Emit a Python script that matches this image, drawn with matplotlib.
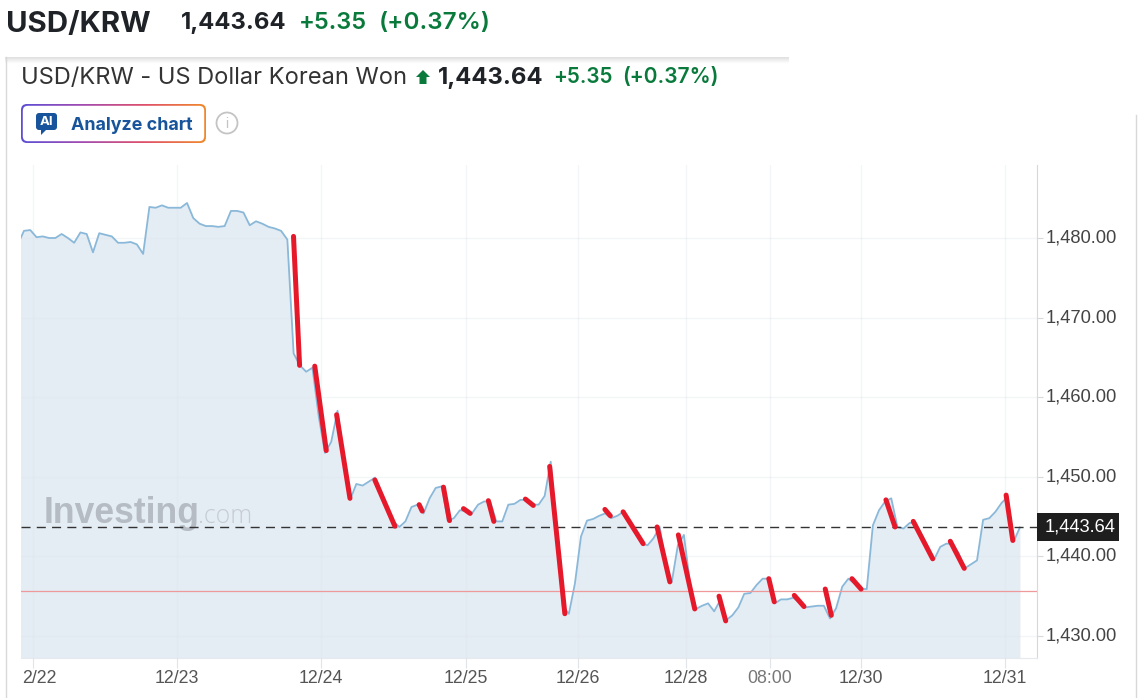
import matplotlib
matplotlib.use('Agg')
import matplotlib.pyplot as plt
from matplotlib.patches import FancyBboxPatch, Circle, Polygon, Rectangle
from matplotlib.transforms import ScaledTranslation
import numpy as np

W, H = 1143, 698

# price series, in three stretches
price_a = [1479.2, 1480.9, 1481.0, 1480.1, 1480.2, 1480.0, 1480.0, 1480.5, 1480.0, 1479.4, 1480.7,
           1480.5, 1478.2, 1480.6, 1480.4, 1480.2, 1479.4, 1479.4, 1479.5, 1479.2, 1478.0,
           1483.9, 1483.8, 1484.1, 1483.8, 1483.8, 1483.8, 1484.4, 1482.5, 1481.8, 1481.5,
           1481.5, 1481.4, 1481.5, 1483.4, 1483.4, 1483.2, 1481.6, 1482.1, 1481.8, 1481.4,
           1481.2, 1480.9, 1479.8, 1465.5, 1464.0, 1463.2, 1463.7, 1457.6, 1453.0, 1454.4,
           1458.3, 1452.5, 1447.1, 1449.1, 1448.9, 1449.4, 1449.9]
price_b = [1448.1, 1446.2, 1444.4, 1443.7, 1444.4, 1446.2, 1446.5, 1445.4, 1447.3, 1448.6,
           1448.8, 1444.5, 1444.8, 1445.8, 1445.7, 1445.4, 1446.5, 1446.9, 1446.9, 1444.4,
           1444.4, 1446.5, 1446.6, 1447.1, 1447.1, 1446.5, 1446.5, 1447.6, 1451.9, 1442.7,
           1433.7, 1432.8, 1436.6, 1442.5, 1444.5, 1444.7, 1445.1, 1445.4, 1444.8, 1445.1,
           1445.6, 1444.4, 1443.0, 1441.6, 1441.4, 1442.3, 1443.7, 1439.1, 1436.8, 1441.4,
           1442.7, 1436.6, 1433.4, 1433.8, 1434.1, 1433.1, 1434.5, 1432.0, 1432.6, 1433.6]
price_c = [1435.3, 1435.4, 1436.4, 1437.2, 1437.2, 1434.1, 1434.6, 1434.6, 1434.8, 1434.2,
           1433.6, 1433.7, 1433.8, 1433.8, 1432.2, 1433.5, 1436.2, 1437.2, 1436.6, 1435.9,
           1435.9, 1443.9, 1445.8, 1446.9, 1447.3, 1443.7, 1443.5, 1444.2, 1444.2, 1442.7,
           1441.2, 1439.6, 1441.2, 1441.6, 1441.6, 1440.4, 1438.5, 1439.0, 1439.5, 1444.6,
           1444.8, 1445.6, 1446.7, 1447.5, 1441.9, 1443.64]

# hand drawn red strokes: start and end of each one
red_x0 = [44.4, 47.9, 51.5, 57.8, 65.1, 69.1, 72.4, 76.5, 82.6, 86.6, 95.7, 98.7, 104.3, 107.8,
          114.5, 122.7, 126.9, 132.0, 136.4, 142.0, 146.5, 152.6, 161.8]
red_y0 = [1480.2, 1463.9, 1457.8, 1449.6, 1446.5, 1448.7, 1446.0, 1447.0, 1447.2, 1451.3, 1445.9,
          1445.6, 1443.7, 1442.7, 1435.0, 1437.2, 1435.1, 1435.9, 1437.2, 1447.1, 1444.4, 1441.9, 1447.7]
red_x1 = [45.4, 49.8, 53.7, 61.1, 65.6, 70.1, 73.5, 77.4, 83.9, 89.1, 96.6, 102.0, 106.4, 110.5,
          115.6, 123.6, 128.5, 133.0, 137.9, 143.5, 149.7, 154.9, 162.9]
red_y1 = [1464.0, 1453.3, 1447.3, 1443.8, 1445.7, 1444.5, 1445.4, 1444.4, 1446.4, 1432.8, 1445.1,
          1441.6, 1436.8, 1433.4, 1431.9, 1434.3, 1433.7, 1432.6, 1435.9, 1443.7, 1439.7, 1438.5, 1442.0]

x_ticks = [1.48, 25.2, 48.9, 72.8, 91.3, 109.1, 122.9, 137.9, 161.6]
x_labels = ['2/22', '12/23', '12/24', '12/25', '12/26', '12/28', '08:00', '12/30', '12/31']
y_ticks = [1430, 1440, 1450, 1460, 1470, 1480]
last_price = 1443.64
ref_price = 1435.6

x_a = 1.033 * (np.arange(len(price_a)) - 1)
x_b = x_a[-1] + 0.9974 * (np.arange(len(price_b)) + 1)
x_c = 118.66 + 1.009 * np.arange(len(price_c))
xs = np.concatenate([x_a, x_b, x_c])
ys = np.array(price_a + price_b + price_c)

plt.rcParams['font.family'] = ['Liberation Sans', 'DejaVu Sans']

fig = plt.figure(figsize=(W / 100, H / 100), dpi=100, facecolor='white')

# chart area
L, R, T, B = 21, 1037, 165, 658
ax = fig.add_axes([L / W, 1 - B / H, (R - L) / W, (B - T) / H])
ax.set_xlim((L - 24) / 6.07, (R - 24) / 6.07)
ax.set_ylim(1430 - (B - 636) / 7.96, 1430 + (636 - T) / 7.96)

# pixel overlay for the page furniture
ov = fig.add_axes([0, 0, 1, 1], zorder=5)
ov.set_xlim(0, W)
ov.set_ylim(H, 0)
ov.axis('off')
ov.patch.set_alpha(0)

ax.fill_between(xs, ys, ax.get_ylim()[0], color='#e4ecf4', lw=0, zorder=1)
ax.grid(True, color='#dfe4ea', alpha=0.35, lw=1, zorder=1.5)
ax.set_axisbelow(False)
ax.text(44, 523, 'Investing', transform=ov.transData, fontsize=25.6, fontweight='bold',
        color='#b6bcc4', family=['Liberation Sans'], zorder=2)
ax.text(198, 523, '.com', transform=ov.transData, fontsize=17.8, color='#c6ccd3',
        family=['Open Sans'], fontweight='light', zorder=2)
ax.plot(xs, ys, color='#8ab8d9', lw=1.3, zorder=3, solid_joinstyle='round')
ax.axhline(ref_price, color='#ef9a9a', lw=0.9, zorder=3)
ax.axhline(last_price, color='#333333', lw=1.0, dashes=(6.5, 4.5), zorder=4)
for x0, y0, x1, y1 in zip(red_x0, red_y0, red_x1, red_y1):
    ax.plot([x0, x1], [y0, y1], color='#e6192b', lw=3.6, solid_capstyle='round', zorder=6)

for s in ['top', 'left']:
    ax.spines[s].set_visible(False)
ax.spines['right'].set_color('#d6d8dc')
ax.spines['bottom'].set_color('#e6e9ee')
ax.yaxis.tick_right()
ax.set_yticks(y_ticks)
ax.set_yticklabels([f'{v:,.2f}' for v in y_ticks])
ax.set_xticks(x_ticks)
ax.set_xticklabels(x_labels)
ax.tick_params(axis='y', length=4, color='#d6d8dc', labelsize=13.2, labelcolor='#444444', pad=2)
ax.tick_params(axis='x', length=7, color='#e0e3e8', labelsize=12.8, labelcolor='#555555', pad=1.5)
ax.get_xticklabels()[6].set_color('#777777')
first = ax.get_xticklabels()[0]
first.set_transform(first.get_transform() + ScaledTranslation(6 / 100, 0, fig.dpi_scale_trans))
for lab in ax.get_yticklabels():
    lab.set_transform(lab.get_transform() + ScaledTranslation(0, 2 / 100, fig.dpi_scale_trans))

# last price tag
ov.add_patch(Rectangle((1037, 513), 82, 28, color='#1e1e1e', lw=0))
ov.text(1080, 527.5, f'{last_price:,.2f}', color='white', fontsize=13.2, ha='center', va='center')

# panel frame
ov.plot([5.5, 5.5], [57, H], color='#d8d8d8', lw=1)
ov.plot([1135.5, 1135.5], [115, H], color='#d8d8d8', lw=1)
shadow = np.linspace(0.88, 1, 8).reshape(-1, 1)
ov.imshow(shadow, extent=(5, 789, 64, 57), cmap='gray', vmin=0, vmax=1, aspect='auto', zorder=0)
ov.set_xlim(0, W)
ov.set_ylim(H, 0)

# headers
GREEN = '#0a7a3c'
DARK = '#1f2328'
ov.text(6, 32, 'USD/KRW', family=['Inter'], fontsize=21.2, fontweight='bold', color=DARK)
ov.text(181, 29, '1,443.64', family=['Inter'], fontsize=17.2, fontweight='bold', color=DARK)
ov.text(299, 29, '+5.35', family=['Inter'], fontsize=17, fontweight='semibold', color=GREEN)
ov.text(379, 29, '(+0.37%)', family=['Inter'], fontsize=17.4, fontweight='semibold', color=GREEN)

ov.text(21, 84, 'USD/KRW - US Dollar Korean Won', family=['Inter'], fontsize=17, color='#333333')
ov.add_patch(Polygon([(423, 70), (430, 77), (426.5, 77), (426.5, 84), (419.5, 84), (419.5, 77), (416, 77)],
                     color=GREEN, lw=0))
ov.text(438, 84, '1,443.64', family=['Inter'], fontsize=17.2, fontweight='bold', color=DARK)
ov.text(553, 83, '+5.35', family=['Inter'], fontsize=14.9, fontweight='semibold', color=GREEN)
ov.text(622, 83, '(+0.37%)', family=['Inter'], fontsize=15.1, fontweight='semibold', color=GREEN)

# button with gradient border
grad_colors = matplotlib.colors.LinearSegmentedColormap.from_list(
    'btn', ['#5b4fd6', '#a24bb0', '#e0506a', '#f08a2a'])
grad = np.linspace(0, 1, 256).reshape(1, -1)
im = ov.imshow(grad, extent=(20, 207, 144, 103), cmap=grad_colors, aspect='auto', zorder=2)
frame = FancyBboxPatch((21, 104), 185, 39, boxstyle='round,pad=0,rounding_size=6',
                       transform=ov.transData, fc='none', ec='none')
ov.add_patch(frame)
im.set_clip_path(frame)
ov.add_patch(FancyBboxPatch((22.8, 105.8), 181.4, 35.4, boxstyle='round,pad=0,rounding_size=5',
                            fc='white', ec='none', zorder=3))
ov.set_xlim(0, W)
ov.set_ylim(H, 0)
BLUE = '#17549b'
ov.add_patch(FancyBboxPatch((36, 113), 21, 17, boxstyle='round,pad=0,rounding_size=3', fc=BLUE, ec='none', zorder=4))
ov.add_patch(Polygon([(41, 129), (47, 129), (41, 135)], color=BLUE, lw=0, zorder=4))
ov.text(46.5, 122, 'AI', color='white', fontsize=9.5, fontweight='bold', family=['Inter'],
        ha='center', va='center', zorder=5)
ov.text(71, 129.5, 'Analyze chart', family=['Inter'], fontsize=12.9, fontweight='bold', color=BLUE, zorder=5)
ov.add_patch(Circle((227, 123), 10.5, fc='white', ec='#c4c4c4', lw=1.3, zorder=4))
ov.text(227, 123.5, 'i', color='#c4c4c4', fontsize=10, ha='center', va='center', zorder=5)

fig.savefig('out.png', dpi=100)
